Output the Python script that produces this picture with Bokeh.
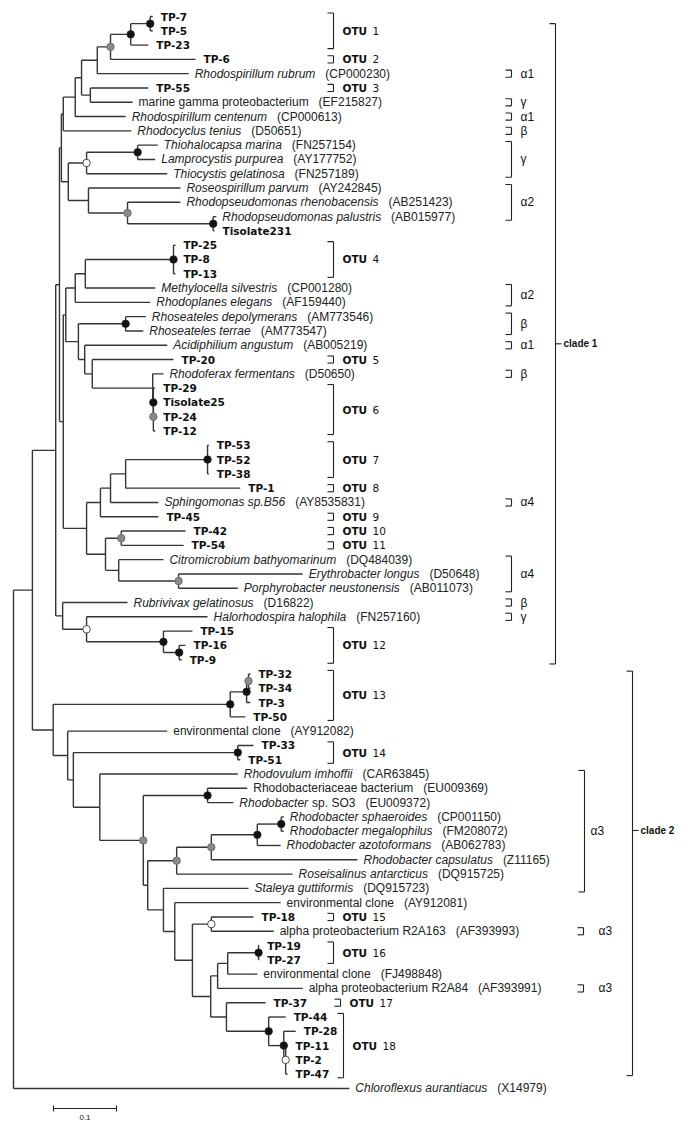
from bokeh.plotting import figure
from bokeh.models import Range1d
from bokeh.embed import file_html
from bokeh.resources import INLINE
from bokeh.core.properties import value

# ---------------- data ----------------
leaf_label = [
    "TP-7", "TP-5", "TP-23", "TP-6", "Rhodospirillum rubrum", "TP-55",
    "marine gamma proteobacterium", "Rhodospirillum centenum", "Rhodocyclus tenius",
    "Thiohalocapsa marina", "Lamprocystis purpurea", "Thiocystis gelatinosa",
    "Roseospirillum parvum", "Rhodopseudomonas rhenobacensis", "Rhodopseudomonas palustris",
    "Tisolate231", "TP-25", "TP-8", "TP-13", "Methylocella silvestris", "Rhodoplanes elegans",
    "Rhoseateles depolymerans", "Rhoseateles terrae", "Acidiphilium angustum", "TP-20",
    "Rhodoferax fermentans", "TP-29", "Tisolate25", "TP-24", "TP-12", "TP-53", "TP-52",
    "TP-38", "TP-1", "Sphingomonas sp.B56", "TP-45", "TP-42", "TP-54",
    "Citromicrobium bathyomarinum", "Erythrobacter longus", "Porphyrobacter neustonensis",
    "Rubrivivax gelatinosus", "Halorhodospira halophila", "TP-15", "TP-16", "TP-9",
    "TP-32", "TP-34", "TP-3", "TP-50", "environmental clone", "TP-33", "TP-51",
    "Rhodovulum imhoffii", "Rhodobacteriaceae bacterium", "Rhodobacter",
    "Rhodobacter sphaeroides", "Rhodobacter megalophilus", "Rhodobacter azotoformans",
    "Rhodobacter capsulatus", "Roseisalinus antarcticus", "Staleya guttiformis",
    "environmental clone", "TP-18", "alpha proteobacterium R2A163", "TP-19", "TP-27",
    "environmental clone", "alpha proteobacterium R2A84", "TP-37", "TP-44", "TP-28",
    "TP-11", "TP-2", "TP-47", "Chloroflexus aurantiacus"]
leaf_style = [
    "b", "b", "b", "b", "i", "b", "r", "i", "i", "i", "i", "i", "i", "i", "i", "b",
    "b", "b", "b", "i", "i", "i", "i", "i", "b", "i", "b", "b", "b", "b", "b", "b",
    "b", "b", "i", "b", "b", "b", "i", "i", "i", "i", "i", "b", "b", "b", "b", "b",
    "b", "b", "r", "b", "b", "i", "r", "m", "i", "i", "i", "i", "i", "i", "r", "b",
    "r", "b", "b", "r", "r", "b", "b", "b", "b", "b", "b", "i"]
leaf_extra = {55: "sp. SO3"}
leaf_acc = [
    "", "", "", "", "(CP000230)", "", "(EF215827)", "(CP000613)", "(D50651)",
    "(FN257154)", "(AY177752)", "(FN257189)", "(AY242845)", "(AB251423)", "(AB015977)",
    "", "", "", "", "(CP001280)", "(AF159440)", "(AM773546)", "(AM773547)", "(AB005219)",
    "", "(D50650)", "", "", "", "", "", "", "", "", "(AY8535831)", "", "", "",
    "(DQ484039)", "(D50648)", "(AB011073)", "(D16822)", "(FN257160)", "", "", "",
    "", "", "", "", "(AY912082)", "", "", "(CAR63845)", "(EU009369)", "(EU009372)",
    "(CP001150)", "(FM208072)", "(AB062783)", "(Z11165)", "(DQ915725)", "(DQ915723)",
    "(AY912081)", "", "(AF393993)", "", "", "(FJ498848)", "(AF393991)", "", "", "",
    "", "", "", "(X14979)"]
# cumulative distance from the root (substitutions per site) of every tip
leaf_tip = [
    0.221, 0.221, 0.214, 0.289, 0.278, 0.214, 0.189, 0.178, 0.187, 0.229, 0.225, 0.244,
    0.265, 0.265, 0.322, 0.319, 0.257, 0.257, 0.257, 0.225, 0.217, 0.210, 0.206, 0.244,
    0.254, 0.238, 0.225, 0.225, 0.225, 0.225, 0.310, 0.310, 0.310, 0.360, 0.230, 0.230,
    0.273, 0.270, 0.238, 0.459, 0.356, 0.181, 0.308, 0.284, 0.273, 0.267, 0.376, 0.376,
    0.376, 0.368, 0.244, 0.381, 0.360, 0.356, 0.371, 0.349, 0.429, 0.429, 0.424, 0.546,
    0.443, 0.373, 0.424, 0.381, 0.413, 0.390, 0.390, 0.387, 0.459, 0.400, 0.432, 0.448,
    0.435, 0.435, 0.435, 0.533]

# internal nodes: id, distance from root, children (int = leaf index), bootstrap class
node_id = ["A1", "A", "B", "Cn", "E", "D", "F", "G", "Ib", "I", "M", "L", "K", "H", "G1",
           "P4", "P", "Q", "Rh", "U2", "U", "T", "S", "R", "W", "X1", "O7", "X", "Y", "Z",
           "O10", "AD", "AC", "AB", "AA", "C3", "C2n", "O12b", "O12a", "AF", "AE",
           "C1", "O13c", "O13b", "O13a", "O14", "Rb1", "C2j", "C2i", "C2h", "C2g", "W15",
           "O16", "C2p", "C2o", "C2t", "C2s", "C2r", "C2q", "C2nn", "C2m", "C2l", "C2k",
           "C2f", "C2e", "C2d", "C2c", "C2b", "C2a", "N1", "ROOT"]
node_x = [0.217, 0.186, 0.154, 0.133, 0.122, 0.108, 0.098, 0.079, 0.197, 0.116, 0.317,
          0.181, 0.119, 0.087, 0.076, 0.254, 0.114, 0.098, 0.178, 0.222, 0.222, 0.221,
          0.125, 0.113, 0.103, 0.083, 0.308, 0.178, 0.154, 0.138, 0.171, 0.262, 0.167,
          0.146, 0.116, 0.079, 0.073, 0.263, 0.238, 0.116, 0.078, 0.067, 0.373, 0.370,
          0.344, 0.356, 0.308, 0.425, 0.387, 0.314, 0.259, 0.314, 0.389, 0.340, 0.324,
          0.432, 0.429, 0.405, 0.338, 0.313, 0.284, 0.256, 0.238, 0.213, 0.206, 0.137,
          0.095, 0.086, 0.063, 0.030, 0.000]
node_kids = [[0, 1], ["A1", 2], ["A", 3], ["B", 4], [5, 6], ["Cn", "E"], ["D", 7],
             ["F", 8], [9, 10], ["Ib", 11], [14, 15], [13, "M"], [12, "L"], ["I", "K"],
             ["G", "H"], [16, 17, 18], ["P4", 19], ["P", 20], [21, 22], [27, 28, 29],
             [26, "U2"], [25, "U"], [24, "T"], [23, "S"], ["Rh", "R"], ["Q", "W"],
             [30, 31, 32], ["O7", 33], ["X", 34], ["Y", 35], [36, 37], [39, 40],
             [38, "AD"], ["O10", "AC"], ["Z", "AB"], ["X1", "AA"], ["G1", "C3"],
             [44, 45], [43, "O12b"], [42, "O12a"], [41, "AF"], ["C2n", "AE"],
             [46, 47], ["O13c", 48], ["O13b", 49], [51, 52], [54, 55], [56, 57],
             ["C2j", 58], ["C2i", 59], ["C2h", 60], [63, 64], [65, 66], ["O16", 67],
             ["C2p", 68], [72, 73, 74], [71, "C2t"], [70, "C2s"], [69, "C2r"],
             ["C2o", "C2q"], ["W15", "C2nn"], [62, "C2m"], [61, "C2l"], ["C2g", "C2k"],
             ["Rb1", "C2f"], [53, "C2e"], ["O14", "C2d"], [50, "C2c"], ["O13a", "C2b"],
             ["C1", "C2a"], ["N1", 75]]
node_boot = ["b", "b", "g", "", "", "", "", "", "b", "w", "b", "g", "", "", "",
             "b", "", "", "b", "g", "b", "", "", "", "", "", "b", "", "", "",
             "g", "g", "", "", "", "", "", "b", "b", "w", "",
             "", "g", "b", "b", "b", "b", "b", "b", "g", "g", "w",
             "b", "", "", "w", "b", "b", "", "", "", "", "",
             "", "g", "", "", "", "", "", ""]

otu_num = [str(i) for i in range(1, 19)]
otu_first = [0, 3, 5, 16, 24, 26, 30, 33, 35, 36, 37, 43, 46, 51, 63, 65, 69, 70]
otu_last = [2, 3, 5, 18, 24, 29, 32, 33, 35, 36, 37, 45, 49, 52, 63, 66, 69, 74]

tax_label = ["α1", "γ", "α1", "β", "γ", "α2", "α2", "β", "α1", "β", "α4", "α4", "β", "γ",
             "α3", "α3", "α3"]
tax_first = [4, 6, 7, 8, 9, 12, 19, 21, 23, 25, 34, 38, 41, 42, 53, 64, 68]
tax_last = [4, 6, 7, 8, 11, 14, 20, 22, 23, 25, 34, 40, 41, 42, 61, 64, 68]

clade_label = ["clade 1", "clade 2"]
clade_first = [0, 46]
clade_last = [45, 74]

scale_len = 0.1
scale_label = "0.1"

# ---------------- layout ----------------
PXU = 630.0          # pixels per distance unit
ROW = 14.293         # pixels per leaf row
X0, Y0 = 13.0, 16.0  # page position of root / first leaf
W_FIG, H_FIG = 682, 1122


def ux(px):
    return (px - X0) / PXU


def uy(py):
    return (py - Y0) / ROW


AW = dict(zip("abcdefghijklmnopqrstuvwxyz",
              [556, 556, 500, 556, 556, 278, 556, 556, 222, 222, 500, 222, 833, 556, 556,
               556, 556, 333, 500, 278, 556, 500, 722, 500, 500, 500]))
AW.update(zip("ABCDEFGHIJKLMNOPQRSTUVWXYZ",
              [667, 667, 722, 722, 667, 611, 778, 722, 278, 500, 667, 556, 833, 722, 778,
               667, 778, 722, 667, 611, 722, 667, 944, 667, 667, 611]))
AW.update({c: 556 for c in "0123456789"})
AW.update({" ": 278, ".": 278, "(": 333, ")": 333, "-": 333})


def tw(s, size):
    return sum(AW.get(c, 556) for c in s) / 1000.0 * size


SP_SIZE = 12
TP_SIZE = 10.5
LINE = "#353535"

p = figure(width=W_FIG, height=H_FIG, output_backend="svg", toolbar_location=None,
           x_range=Range1d(ux(0), ux(W_FIG)),
           y_range=Range1d(start=uy(H_FIG), end=uy(0)),
           min_border=0, background_fill_color="white")
p.axis.visible = False
p.grid.visible = False
p.outline_line_color = None

kids = dict(zip(node_id, node_kids))
nxd = dict(zip(node_id, node_x))


def ny(n):
    if isinstance(n, int):
        return float(n)
    k = kids[n]
    return (ny(k[0]) + ny(k[-1])) / 2.0


def nx(n):
    return leaf_tip[n] if isinstance(n, int) else nxd[n]


x0s, y0s, x1s, y1s = [], [], [], []
for nid in node_id:
    k = kids[nid]
    x = nxd[nid]
    x0s.append(x); y0s.append(ny(k[0])); x1s.append(x); y1s.append(ny(k[-1]))
    for c in k:
        yc = ny(c)
        x0s.append(x); y0s.append(yc); x1s.append(nx(c)); y1s.append(yc)
p.segment(x0=x0s, y0=y0s, x1=x1s, y1=y1s, line_color=LINE, line_width=1.4)

# bootstrap dots
fills = {"b": "#111111", "g": "#8a8a8a", "w": "#ffffff"}
for cls in ["b", "g", "w"]:
    ids = [n for n, b in zip(node_id, node_boot) if b == cls]
    p.scatter(x=[nxd[n] for n in ids], y=[ny(n) for n in ids], size=7.5,
              fill_color=fills[cls], line_color="#222222" if cls != "g" else "#666666",
              line_width=0.8)

# leaf labels
bx, by, bt = [], [], []
ix, iy, it = [], [], []
rx, ry, rt = [], [], []
for i, (lab, st, acc) in enumerate(zip(leaf_label, leaf_style, leaf_acc)):
    if st == "b":
        bx.append(leaf_tip[i] + 8 / PXU); by.append(i); bt.append(lab)
        continue
    x = leaf_tip[i] + 6 / PXU
    if st in ("i", "m"):
        ix.append(x); iy.append(i); it.append(lab)
    else:
        rx.append(x); ry.append(i); rt.append(lab)
    wpx = tw(lab, SP_SIZE)
    if i in leaf_extra:
        ex = x + (wpx + 4) / PXU
        rx.append(ex); ry.append(i); rt.append(leaf_extra[i])
        wpx += 4 + tw(leaf_extra[i], SP_SIZE)
    if acc:
        rx.append(x + (wpx + 10) / PXU); ry.append(i); rt.append(acc)

p.text(x=bx, y=by, text=bt, text_font=value("DejaVu Sans"), text_font_style="bold",
       text_font_size=f"{TP_SIZE}px", text_baseline="middle", text_color="#111111")
p.text(x=ix, y=iy, text=it, text_font=value("Liberation Sans"), text_font_style="italic",
       text_font_size=f"{SP_SIZE}px", text_baseline="middle", text_color="#222222")
p.text(x=rx, y=ry, text=rt, text_font=value("Liberation Sans"),
       text_font_size=f"{SP_SIZE}px", text_baseline="middle", text_color="#222222")

# OTU brackets
BR = 0.25
ox0, oy0, ox1, oy1 = [], [], [], []
olx, oly, onx = [], [], []
for k, (f, l) in enumerate(zip(otu_first, otu_last)):
    bxp = 333 if k < 16 else (340 if k == 16 else 343)
    xv = ux(bxp); xt = ux(bxp - 6)
    ya, yb = f - BR, l + BR
    ox0 += [xv, xt, xt]; oy0 += [ya, ya, yb]; ox1 += [xv, xv, xv]; oy1 += [yb, ya, yb]
    olx.append(ux(bxp + 9)); oly.append((f + l) / 2.0)
    onx.append(ux(bxp + 9 + 25 + 5))
p.segment(x0=ox0, y0=oy0, x1=ox1, y1=oy1, line_color="#222222", line_width=1.1)
p.text(x=olx, y=oly, text=["OTU"] * len(olx), text_font=value("DejaVu Sans"),
       text_font_style="bold", text_font_size="10.5px", text_baseline="middle",
       text_color="#111111")
p.text(x=onx, y=oly, text=otu_num, text_font=value("DejaVu Sans"),
       text_font_size="10.5px", text_baseline="middle", text_color="#111111")

# taxonomic brackets
tx0, ty0, tx1, ty1 = [], [], [], []
tlx, tly = [], []
for k, (f, l) in enumerate(zip(tax_first, tax_last)):
    if tax_label[k] == "α3":
        bxp = 584 if l > f else 583
        lxp = 590 if l > f else 598
    else:
        bxp, lxp = 511, 520
    xv = ux(bxp); xt = ux(bxp - 6)
    ya, yb = f - BR, l + BR
    tx0 += [xv, xt, xt]; ty0 += [ya, ya, yb]; tx1 += [xv, xv, xv]; ty1 += [yb, ya, yb]
    tlx.append(ux(lxp)); tly.append((f + l) / 2.0)
p.segment(x0=tx0, y0=ty0, x1=tx1, y1=ty1, line_color="#222222", line_width=1.1)
p.text(x=tlx, y=tly, text=tax_label, text_font=value("Liberation Sans"),
       text_font_size="12px", text_baseline="middle", text_color="#111111")

# clade brackets
clade_bx = [555, 632]
clade_pad = [(0.5, 0.3), (-0.2, 0.1)]
clade_mid = [None, uy(830)]
cx0, cy0, cx1, cy1 = [], [], [], []
clx, cly = [], []
for k, (f, l) in enumerate(zip(clade_first, clade_last)):
    xv = ux(clade_bx[k]); xt = ux(clade_bx[k] - 6); xr = ux(clade_bx[k] + 6)
    ya, yb = f + clade_pad[k][0], l + clade_pad[k][1]
    ym = clade_mid[k] if clade_mid[k] is not None else (ya + yb) / 2.0
    cx0 += [xv, xt, xt, xv]; cy0 += [ya, ya, yb, ym]
    cx1 += [xv, xv, xv, xr]; cy1 += [yb, ya, yb, ym]
    clx.append(ux(clade_bx[k] + 8)); cly.append(ym)
p.segment(x0=cx0, y0=cy0, x1=cx1, y1=cy1, line_color="#222222", line_width=1.1)
p.text(x=clx, y=cly, text=clade_label, text_font=value("Liberation Sans"),
       text_font_style="bold", text_font_size="10px", text_baseline="middle",
       text_color="#111111")

# scale bar
sx0 = ux(53)
sy = uy(1108)
tick = 3 / ROW
p.segment(x0=[sx0, sx0, sx0 + scale_len], y0=[sy, sy - tick, sy - tick],
          x1=[sx0 + scale_len, sx0, sx0 + scale_len], y1=[sy, sy + tick, sy + tick],
          line_color="#222222", line_width=1.1)
p.text(x=[sx0 + scale_len / 2], y=[uy(1117)], text=[scale_label],
       text_font=value("Liberation Sans"), text_font_size="8px", text_align="center",
       text_baseline="middle", text_color="#222222")

open("out.html", "w").write(file_html(p, INLINE))
